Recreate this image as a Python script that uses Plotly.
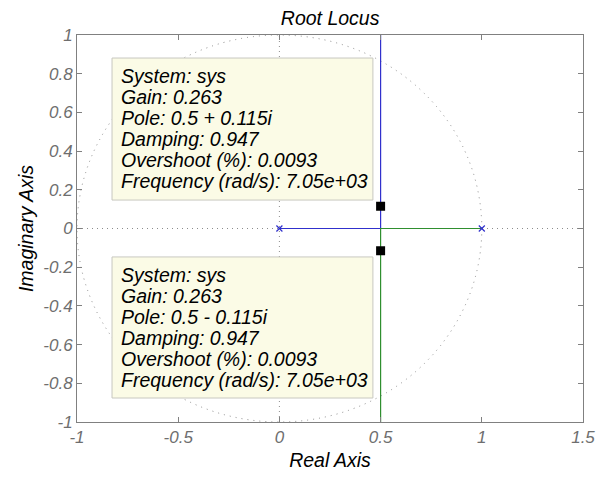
import plotly.graph_objects as go

# ---- data ----
poles_re = [0.0, 1.0]
poles_im = [0.0, 0.0]
branch1_re = [0.0, 0.5, 0.5]
branch1_im = [0.0, 0.0, 1.0]
branch2_re = [1.0, 0.5, 0.5]
branch2_im = [0.0, 0.0, -1.0]
sel_re = [0.5, 0.5]
sel_im = [0.115, -0.115]
tip_upper = ["System: sys", "Gain: 0.263", "Pole: 0.5 + 0.115i", "Damping: 0.947",
             "Overshoot (%): 0.0093", "Frequency (rad/s): 7.05e+03"]
tip_lower = ["System: sys", "Gain: 0.263", "Pole: 0.5 - 0.115i", "Damping: 0.947",
             "Overshoot (%): 0.0093", "Frequency (rad/s): 7.05e+03"]
x_ticks = [-1, -0.5, 0, 0.5, 1, 1.5]
x_ticktext = ["-1", "-0.5", "0", "0.5", "1", "1.5"]
y_ticks = [-1, -0.8, -0.6, -0.4, -0.2, 0, 0.2, 0.4, 0.6, 0.8, 1]
y_ticktext = ["-1", "-0.8", "-0.6", "-0.4", "-0.2", "0", "0.2", "0.4", "0.6", "0.8", "1"]
unit_radius = 1.0
x_range = [-1, 1.5]
y_range = [-1, 1]

FONT = "Arial, Liberation Sans, sans-serif"
BLUE = "#3030cc"
GREEN = "#2f8f2f"
GRIDC = "#8c8c8c"

fig = go.Figure()

# dotted grid: unit circle and zero lines (below data)
fig.add_shape(type="circle", xref="x", yref="y",
              x0=-unit_radius, x1=unit_radius, y0=-unit_radius, y1=unit_radius,
              line=dict(color=GRIDC, width=1, dash="1px,5px"), layer="below")
fig.add_shape(type="line", xref="x", yref="y", x0=x_range[0], x1=x_range[1], y0=0, y1=0,
              line=dict(color=GRIDC, width=1, dash="1px,4px"), layer="below")
fig.add_shape(type="line", xref="x", yref="y", x0=0, x1=0, y0=y_range[0], y1=y_range[1],
              line=dict(color=GRIDC, width=1, dash="1px,4px"), layer="below")

fig.add_trace(go.Scatter(x=branch1_re, y=branch1_im, mode="lines",
                         line=dict(color=BLUE, width=1.2), hoverinfo="skip"))
fig.add_trace(go.Scatter(x=branch2_re, y=branch2_im, mode="lines",
                         line=dict(color=GREEN, width=1.2), hoverinfo="skip"))
fig.add_trace(go.Scatter(x=poles_re, y=poles_im, mode="markers",
                         marker=dict(symbol="x-thin", size=6, line=dict(color=BLUE, width=1.2))))
fig.add_trace(go.Scatter(x=sel_re, y=sel_im, mode="markers",
                         marker=dict(symbol="square", size=9, color="black")))

# data tip boxes (x0, x1, y_top, y_bottom in axis units)
boxes = [(-0.827, 0.462, 0.881, 0.147, tip_upper),
         (-0.827, 0.462, -0.147, -0.876, tip_lower)]
LINE_PX = 21
for bx0, bx1, btop, bbot, lines in boxes:
    fig.add_shape(type="rect", xref="x", yref="y", x0=bx0, x1=bx1, y0=bbot, y1=btop,
                  fillcolor="#fbfbe6", line=dict(color="#c8c8c0", width=1), layer="above")
    for i, txt in enumerate(lines):
        fig.add_annotation(x=bx0 + 0.034, y=btop, xref="x", yref="y", text=txt,
                           showarrow=False, xanchor="left", yanchor="middle",
                           yshift=-(18 + LINE_PX * i), align="left",
                           font=dict(family=FONT, size=19.5, color="#000000", style="italic"))

axis_common = dict(showgrid=False, zeroline=False, showline=True, linecolor="#808080",
                   linewidth=1, mirror="ticks", ticks="inside", ticklen=5, tickcolor="#808080",
                   automargin=False,
                   tickfont=dict(family=FONT, size=17, color="#6e6e6e", style="italic"))

title_font = dict(family=FONT, size=19.5, color="black", style="italic")

fig.update_layout(
    width=597, height=478,
    margin=dict(l=77, r=14, t=35, b=56),
    paper_bgcolor="white", plot_bgcolor="white",
    showlegend=False,
    title=dict(text="Root Locus", x=0.553, xanchor="center", y=1 - 18 / 478, yanchor="middle",
               font=title_font),
    xaxis=dict(range=x_range, tickvals=x_ticks, ticktext=x_ticktext,
               title=dict(text="Real Axis", standoff=6, font=title_font),
               **axis_common),
    yaxis=dict(range=y_range, tickvals=y_ticks, ticktext=y_ticktext,
               title=dict(text="Imaginary Axis", standoff=4, font=title_font),
               **axis_common),
)

fig.write_html("out.html")
